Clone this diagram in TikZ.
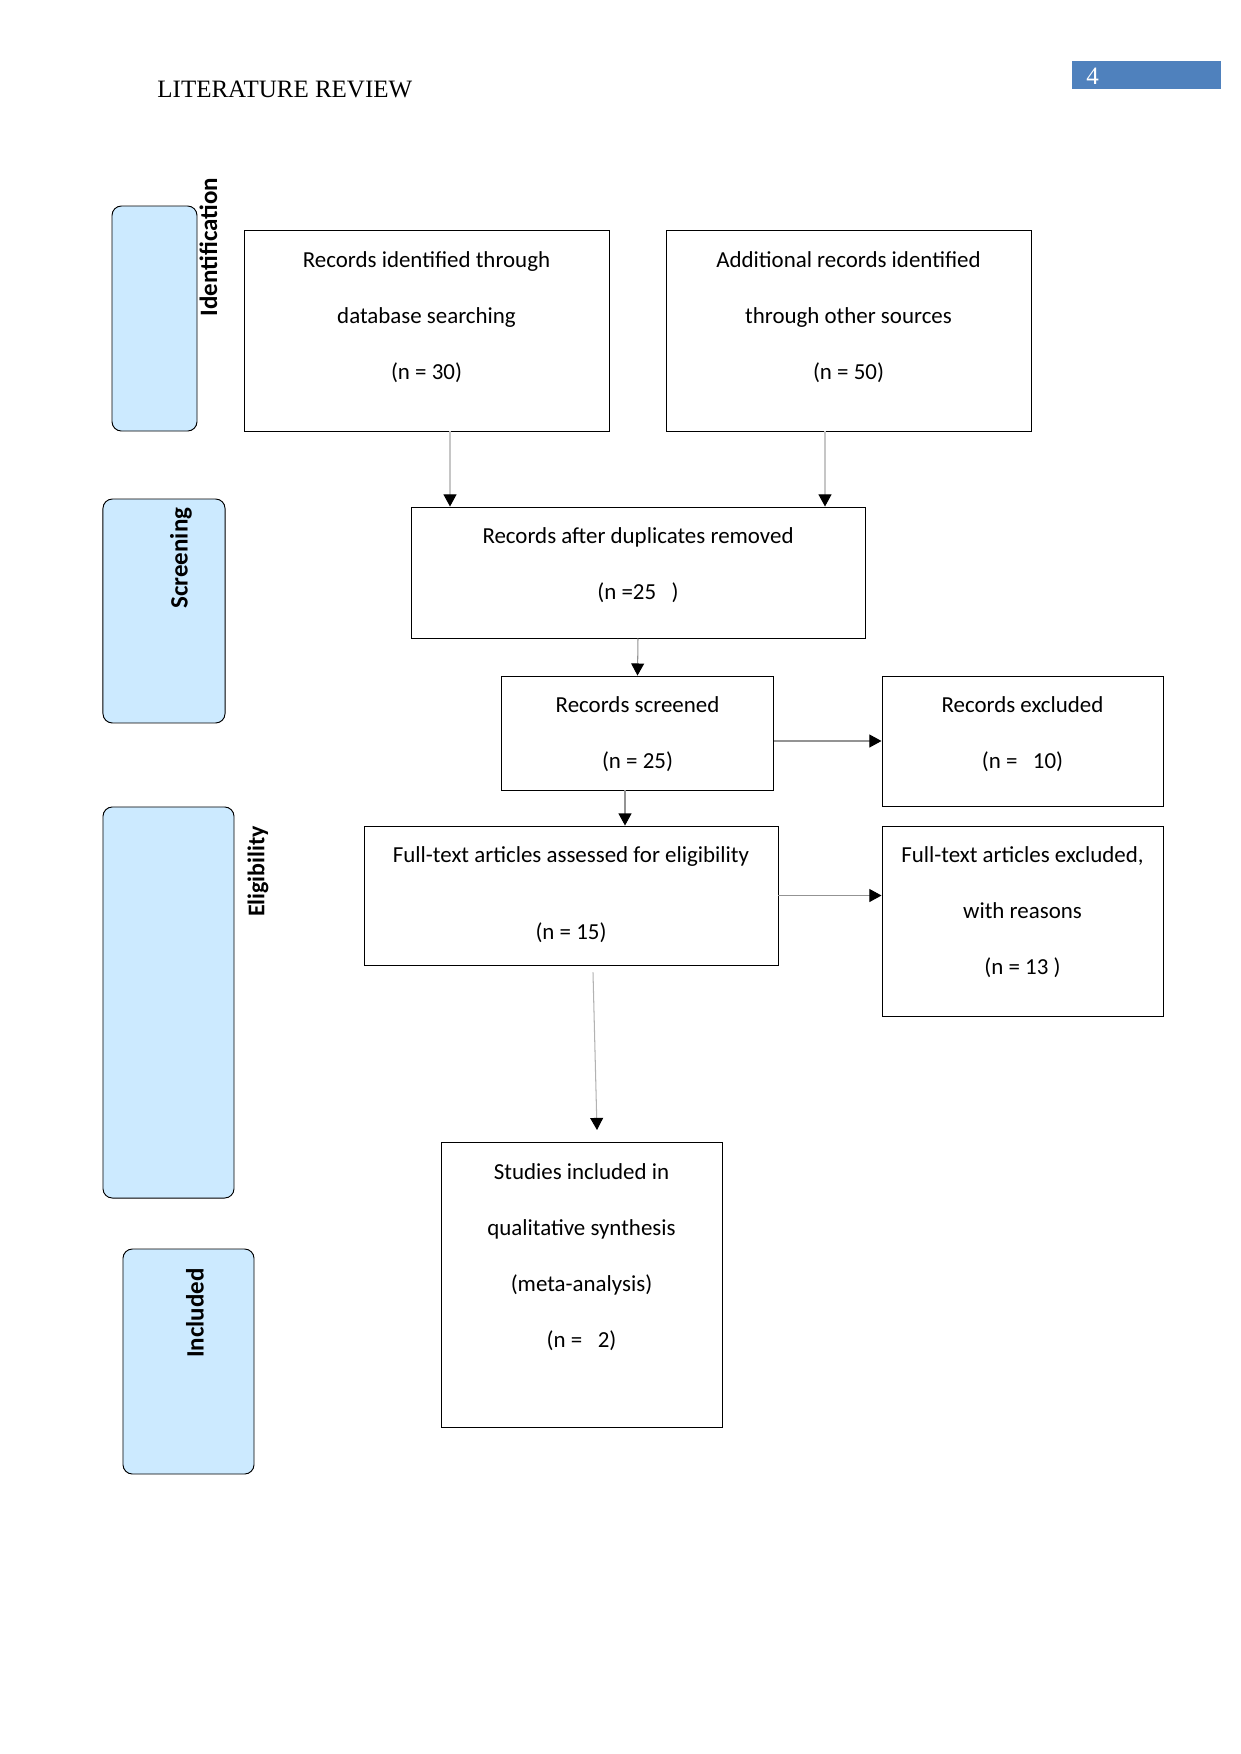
\documentclass[tikz,border=0pt]{standalone}
\usepackage{fontspec}
\setmainfont{Carlito}
\newfontfamily\hdrfont{Liberation Serif}
\usetikzlibrary{arrows.meta}
\definecolor{sidefill}{RGB}{204,234,255}
\definecolor{pgblue}{RGB}{79,129,189}
\begin{document}
\begin{tikzpicture}[x=0.48pt,y=-0.48pt,
  flowbox/.style 2 args={draw=black,line width=0.45pt,minimum width=#1,minimum height=#2,inner sep=0pt},
  sidebox/.style 2 args={draw=black,line width=0.45pt,fill=sidefill,rounded corners=4.5pt,minimum width=#1,minimum height=#2,inner sep=0pt},
  boxtext/.style={anchor=north,inner sep=0pt,align=center,font=\fontsize{11}{26.88}\selectfont},
  sidelabel/.style={rotate=90,inner sep=0pt,font=\fontsize{12}{14}\selectfont\bfseries},
  conn/.style={line width=0.5pt,-{Triangle[length=5.8pt,width=6.2pt,color=black]}},
  lightconn/.style={conn,draw=gray!45},
  darkconn/.style={conn,draw=gray!85}
]
\useasboundingbox (0,0) rectangle (1241,1754);
\fill[white] (0,0) rectangle (1241,1754);

% header
\node[anchor=base west,inner sep=0pt,font=\hdrfont\fontsize{12}{14}\selectfont] (hdr) at (157,97.5) {LITERATURE REVIEW};
\node[fill=pgblue,minimum width=71.5pt,minimum height=13.4pt,inner sep=0pt] (pg) at (1146.5,75) {};
\node[anchor=base west,inner sep=0pt,text=white,font=\hdrfont\fontsize{12}{14}\selectfont] (pgnum) at (1086,84) {4};

% side phase boxes
\node[sidebox={40.8pt}{108pt}] (sI) at (154.5,318.5) {};
\node[sidebox={58.6pt}{107.5pt}] (sS) at (164,611) {};
\node[sidebox={62.9pt}{187.7pt}] (sE) at (168.5,1002.5) {};
\node[sidebox={62.9pt}{108pt}] (sN) at (188.5,1361.5) {};
\node[sidelabel] (lI) at (208.5,247) {Identification};
\node[sidelabel] (lS) at (181,558) {Screening};
\node[sidelabel,font=\fontsize{11.5}{14}\selectfont\bfseries] (lE) at (258,871.5) {Eligibility};
\node[sidelabel] (lN) at (195,1313) {Included};

% flow boxes
\node[flowbox={175.2pt}{96.2pt}] (A) at (426.5,330.75) {};
\node[flowbox={175.2pt}{96.2pt}] (B) at (848.5,330.75) {};
\node[flowbox={217.9pt}{62.9pt}] (C) at (638,572.5) {};
\node[flowbox={131.0pt}{54.7pt}] (D) at (637.5,733) {};
\node[flowbox={134.9pt}{62.4pt}] (E) at (1022.5,741) {};
\node[flowbox={198.7pt}{66.7pt}] (F) at (571,895.5) {};
\node[flowbox={134.9pt}{91.2pt}] (G) at (1022.5,921) {};
\node[flowbox={134.9pt}{136.6pt}] (H) at (581.5,1284.75) {};

% texts
\node[boxtext] (At) at ([yshift=1.06pt]A.north) {\strut Records identified through\\database searching\\(n = 30)};
\node[boxtext] (Bt) at ([yshift=1.06pt]B.north) {\strut Additional records identified\\through other sources\\(n = 50)};
\node[boxtext] (Ct) at ([yshift=1.06pt]C.north) {\strut Records after duplicates removed\\(n =25\ \ \ )};
\node[boxtext] (Dt) at ([yshift=1.06pt]D.north) {\strut Records screened\\(n = 25)};
\node[boxtext] (Et) at ([yshift=1.06pt]E.north) {\strut Records excluded\\(n =\ \ \ 10)};
\node[boxtext] (Ft) at ([yshift=1.06pt]F.north) {\strut Full-text articles assessed for eligibility\\[10.08pt](n = 15)};
\node[boxtext] (Gt) at ([yshift=1.06pt]G.north) {\strut Full-text articles excluded,\\with reasons\\(n = 13 )};
\node[boxtext] (Ht) at ([yshift=1.06pt]H.north) {\strut Studies included in\\qualitative synthesis\\(meta-analysis)\\(n =\ \ \ 2)};

% connectors
\draw[lightconn] ([xshift=11.28pt]A.south) -- ([xshift=11.28pt]A.south |- C.north);
\draw[lightconn] ([xshift=-11.28pt]B.south) -- ([xshift=-11.28pt]B.south |- C.north);
\draw[darkconn] (C.south) -- (D.north);
\draw[darkconn] (D.east |- E.west) -- (E.west);
\draw[darkconn] ([xshift=-6pt]D.south) -- ([xshift=-6pt]D.south |- F.north);
\draw[darkconn] (F.east) -- (F.east -| G.west);
\coordinate (f1) at ([xshift=10.56pt,yshift=-3.36pt]F.south);
\coordinate (h1) at ([xshift=7.44pt,yshift=5.76pt]H.north);
\draw[conn,draw=gray!60] (f1) -- (h1);
\end{tikzpicture}
\end{document}
